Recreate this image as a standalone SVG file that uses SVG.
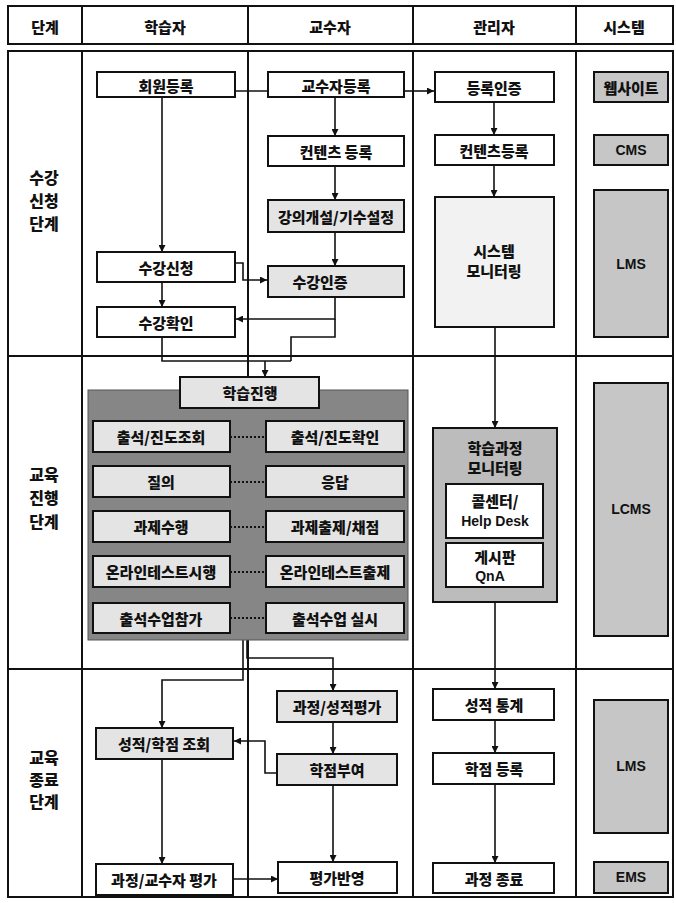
<svg xmlns="http://www.w3.org/2000/svg" width="676" height="903" viewBox="0 0 676 903">
<style>
text{font-family:"Noto Sans CJK KR","Liberation Sans",sans-serif;font-weight:900;fill:#111;text-anchor:middle;dominant-baseline:central}
.t{font-size:15px}
.h{font-size:15px}
.ph{font-size:16px}
.grid{stroke:#111;stroke-width:2;fill:none}
.box{stroke:#111;stroke-width:2}
.w{fill:#fff}
.lg{fill:#e4e4e4}
.sg{fill:#c6c6c6}
.dk{fill:#868686;stroke:#555;stroke-width:1}
.mg{fill:#bcbcbc}
.ln{stroke:#111;stroke-width:1.6;fill:none}
.dot{stroke:#111;stroke-width:2;stroke-dasharray:2,2;fill:none}
.sys{font-family:"Liberation Sans",Arial,sans-serif;font-weight:bold;font-size:14px}
</style>
<defs>
<marker id="ah" viewBox="0 0 10 10" refX="10" refY="5" markerWidth="7" markerHeight="7" orient="auto" markerUnits="userSpaceOnUse">
<path d="M0,0 L10,5 L0,10 z" fill="#111"/>
</marker>
</defs>
<rect width="676" height="903" fill="#fff"/>

<g id="table">
<rect class="grid" x="8" y="6" width="665" height="38"/>
<line class="grid" x1="82" y1="6" x2="82" y2="44"/>
<line class="grid" x1="248" y1="6" x2="248" y2="44"/>
<line class="grid" x1="413" y1="6" x2="413" y2="44"/>
<line class="grid" x1="576" y1="6" x2="576" y2="44"/>
<text class="h" x="45" y="26">단계</text>
<text class="h" x="165" y="26">학습자</text>
<text class="h" x="330" y="26">교수자</text>
<text class="h" x="494" y="26">관리자</text>
<text class="h" x="624" y="26">시스템</text>
<rect class="grid" x="8" y="51" width="665" height="846"/>
<line class="grid" x1="8" y1="356" x2="673" y2="356"/>
<line class="grid" x1="8" y1="669" x2="673" y2="669"/>
<line class="grid" x1="82" y1="51" x2="82" y2="897"/>
<line class="grid" x1="248" y1="51" x2="248" y2="897"/>
<line class="grid" x1="413" y1="51" x2="413" y2="897"/>
<line class="grid" x1="576" y1="51" x2="576" y2="897"/>
<text class="ph" x="44" y="177">수강</text>
<text class="ph" x="44" y="200">신청</text>
<text class="ph" x="44" y="223">단계</text>
<text class="ph" x="44" y="474">교육</text>
<text class="ph" x="44" y="497">진행</text>
<text class="ph" x="44" y="521">단계</text>
<text class="ph" x="44" y="757">교육</text>
<text class="ph" x="44" y="779">종료</text>
<text class="ph" x="44" y="801">단계</text>
</g>

<g id="connectors">
<line class="ln" x1="235" y1="91" x2="268" y2="91"/>
<line class="ln" x1="404" y1="91" x2="434" y2="91" marker-end="url(#ah)"/>
<line class="ln" x1="162" y1="97" x2="162" y2="252" marker-end="url(#ah)"/>
<line class="ln" x1="335" y1="97" x2="335" y2="136" marker-end="url(#ah)"/>
<line class="ln" x1="335" y1="166" x2="335" y2="200" marker-end="url(#ah)"/>
<line class="ln" x1="335" y1="232" x2="335" y2="266" marker-end="url(#ah)"/>
<polyline class="ln" points="235,263 243,263 243,280 267,280" marker-end="url(#ah)"/>
<line class="ln" x1="162" y1="282" x2="162" y2="307" marker-end="url(#ah)"/>
<polyline class="ln" points="335,297 335,319 236,319" marker-end="url(#ah)"/>
<polyline class="ln" points="335,319 335,337 291,337 291,361"/>
<polyline class="ln" points="162,337 162,361 291,361"/>
<line class="ln" x1="265" y1="361" x2="265" y2="377" marker-end="url(#ah)"/>
<line class="ln" x1="494" y1="102" x2="494" y2="135" marker-end="url(#ah)"/>
<line class="ln" x1="494" y1="165" x2="494" y2="197" marker-end="url(#ah)"/>
<line class="ln" x1="495" y1="327" x2="495" y2="428" marker-end="url(#ah)"/>
<line class="ln" x1="495" y1="602" x2="495" y2="689" marker-end="url(#ah)"/>
<line class="ln" x1="495" y1="720" x2="495" y2="753" marker-end="url(#ah)"/>
<line class="ln" x1="495" y1="784" x2="495" y2="863" marker-end="url(#ah)"/>
<polyline class="ln" points="243,640 243,680 162,680 162,728" marker-end="url(#ah)"/>
<polyline class="ln" points="247,640 247,658 333,658 333,691" marker-end="url(#ah)"/>
<line class="ln" x1="333" y1="722" x2="333" y2="754" marker-end="url(#ah)"/>
<polyline class="ln" points="277,773 265,773 265,741 234,741" marker-end="url(#ah)"/>
<line class="ln" x1="162" y1="759" x2="162" y2="864" marker-end="url(#ah)"/>
<line class="ln" x1="333" y1="785" x2="333" y2="862" marker-end="url(#ah)"/>
<line class="ln" x1="233" y1="879" x2="278" y2="879" marker-end="url(#ah)"/>
</g>

<g id="n-join"><rect class="box w" x="97" y="72" width="138" height="25"/><text class="t" x="166" y="85">회원등록</text></g>
<g id="n-profreg"><rect class="box w" x="268" y="72" width="136" height="25"/><text class="t" x="336" y="85">교수자등록</text></g>
<g id="n-contentreg"><rect class="box w" x="268" y="136" width="136" height="30"/><text class="t" x="336" y="151">컨텐츠 등록</text></g>
<g id="n-course"><rect class="box lg" x="268" y="200" width="136" height="32"/><text class="t" x="336" y="216">강의개설/기수설정</text></g>
<g id="n-apply"><rect class="box w" x="97" y="252" width="138" height="30"/><text class="t" x="166" y="267">수강신청</text></g>
<g id="n-approve"><rect class="box lg" x="268" y="266" width="136" height="31"/><text class="t" x="320" y="281">수강인증</text></g>
<g id="n-confirm"><rect class="box w" x="97" y="307" width="138" height="30"/><text class="t" x="166" y="322">수강확인</text></g>

<g id="n-regauth"><rect class="box w" x="435" y="72" width="119" height="30"/><text class="t" x="494" y="87">등록인증</text></g>
<g id="n-contentreg2"><rect class="box w" x="435" y="135" width="119" height="30"/><text class="t" x="494" y="150">컨텐츠등록</text></g>
<g id="n-sysmon"><rect class="box" fill="#f2f2f2" x="435" y="197" width="119" height="130"/><text class="t" x="494" y="250">시스템</text><text class="t" x="494" y="270">모니터링</text></g>

<g id="n-web"><rect class="box sg" x="594" y="72" width="74" height="30"/><text class="t" x="631" y="87">웹사이트</text></g>
<g id="n-cms"><rect class="box sg" x="594" y="135" width="74" height="30"/><text class="sys" x="631" y="150">CMS</text></g>
<g id="n-lms1"><rect class="box sg" x="594" y="190" width="74" height="147"/><text class="sys" x="631" y="264">LMS</text></g>

<g id="n-learning">
<rect class="dk" x="88" y="390" width="320" height="250"/>
<rect class="box lg" x="180" y="377" width="139" height="31"/><text class="t" x="250" y="392">학습진행</text>
<line class="dot" x1="230" y1="437" x2="266" y2="437"/>
<line class="dot" x1="230" y1="482" x2="266" y2="482"/>
<line class="dot" x1="230" y1="527" x2="266" y2="527"/>
<line class="dot" x1="230" y1="572" x2="266" y2="572"/>
<line class="dot" x1="230" y1="618" x2="266" y2="618"/>
</g>
<g id="n-att1"><rect class="box lg" x="93" y="421" width="137" height="31"/><text class="t" x="161" y="436">출석/진도조회</text></g>
<g id="n-att2"><rect class="box lg" x="266" y="421" width="138" height="31"/><text class="t" x="335" y="436">출석/진도확인</text></g>
<g id="n-q"><rect class="box lg" x="93" y="466" width="137" height="31"/><text class="t" x="161" y="481">질의</text></g>
<g id="n-a"><rect class="box lg" x="266" y="466" width="138" height="31"/><text class="t" x="335" y="481">응답</text></g>
<g id="n-hw1"><rect class="box lg" x="93" y="511" width="137" height="31"/><text class="t" x="161" y="526">과제수행</text></g>
<g id="n-hw2"><rect class="box lg" x="266" y="511" width="138" height="31"/><text class="t" x="335" y="526">과제출제/채점</text></g>
<g id="n-test1"><rect class="box lg" x="93" y="556" width="137" height="31"/><text class="t" x="161" y="571">온라인테스트시행</text></g>
<g id="n-test2"><rect class="box lg" x="266" y="556" width="138" height="31"/><text class="t" x="335" y="571">온라인테스트출제</text></g>
<g id="n-off1"><rect class="box lg" x="93" y="603" width="137" height="30"/><text class="t" x="161" y="618">출석수업참가</text></g>
<g id="n-off2"><rect class="box lg" x="266" y="603" width="138" height="30"/><text class="t" x="335" y="618">출석수업 실시</text></g>

<g id="n-monitor">
<rect class="box mg" x="433" y="428" width="124" height="174"/>
<text class="t" x="495" y="447">학습과정</text>
<text class="t" x="495" y="467">모니터링</text>
<rect class="box w" x="446" y="484" width="97" height="54"/>
<text class="t" x="495" y="500">콜센터/</text>
<text class="sys" x="495" y="521">Help Desk</text>
<rect class="box w" x="446" y="543" width="97" height="44"/>
<text class="t" x="495" y="556">게시판</text>
<text class="sys" x="490" y="576">QnA</text>
</g>
<g id="n-lcms"><rect class="box sg" x="594" y="383" width="74" height="253"/><text class="sys" x="631" y="509">LCMS</text></g>

<g id="n-eval"><rect class="box lg" x="277" y="691" width="120" height="31"/><text class="t" x="337" y="706">과정/성적평가</text></g>
<g id="n-grade"><rect class="box lg" x="96" y="728" width="137" height="31"/><text class="t" x="164" y="743">성적/학점 조회</text></g>
<g id="n-credit"><rect class="box lg" x="277" y="754" width="120" height="31"/><text class="t" x="337" y="769">학점부여</text></g>
<g id="n-profeval"><rect class="box w" x="96" y="864" width="137" height="31"/><text class="t" x="164" y="879">과정/교수자 평가</text></g>
<g id="n-apply-eval"><rect class="box w" x="278" y="862" width="119" height="31"/><text class="t" x="337" y="877">평가반영</text></g>

<g id="n-stats"><rect class="box w" x="433" y="689" width="121" height="31"/><text class="t" x="494" y="704">성적 통계</text></g>
<g id="n-creditreg"><rect class="box w" x="433" y="753" width="121" height="31"/><text class="t" x="494" y="768">학점 등록</text></g>
<g id="n-end"><rect class="box w" x="433" y="863" width="121" height="30"/><text class="t" x="494" y="878">과정 종료</text></g>
<g id="n-lms2"><rect class="box sg" x="594" y="700" width="74" height="133"/><text class="sys" x="631" y="766">LMS</text></g>
<g id="n-ems"><rect class="box sg" x="594" y="862" width="74" height="31"/><text class="sys" x="631" y="877">EMS</text></g>
</svg>
